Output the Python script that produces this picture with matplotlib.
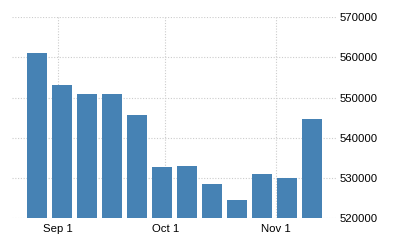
import matplotlib
matplotlib.use("Agg")
import matplotlib.pyplot as plt
import numpy as np
import pandas as pd

# weekly values
week_ending = ["2017-08-26", "2017-09-02", "2017-09-09", "2017-09-16",
               "2017-09-23", "2017-09-30", "2017-10-07", "2017-10-14",
               "2017-10-21", "2017-10-28", "2017-11-04", "2017-11-11"]
values = [561100, 553100, 550900, 550900, 545700, 532800,
          533100, 528500, 524600, 531000, 530000, 544700]
y_ticks = [520000, 530000, 540000, 550000, 560000, 570000]
x_ticks = ["2017-09-01", "2017-10-01", "2017-11-01"]
x_tick_labels = ["Sep 1", "Oct 1", "Nov 1"]

dates = pd.to_datetime(week_ending)
plt.rcParams['font.family'] = ['Liberation Sans', 'DejaVu Sans']

fig = plt.figure(figsize=(4, 2.5), dpi=100)
ax = fig.add_axes([0.03, 0.127, 0.81, 0.804])

ax.bar(dates, np.array(values) - y_ticks[0], bottom=y_ticks[0],
       width=5.6, color='#4682b4', zorder=2)

ax.set_ylim(y_ticks[0], y_ticks[-1])
ax.set_xlim(pd.Timestamp("2017-08-19 03:00"), pd.Timestamp("2017-11-17 17:00"))

ax.yaxis.tick_right()
ax.set_yticks(y_ticks)
ax.set_yticklabels([str(v) for v in y_ticks])
ax.set_xticks(pd.to_datetime(x_ticks))
ax.set_xticklabels(x_tick_labels)
ax.tick_params(axis='both', length=0, labelsize=8.2, colors='black')
ax.tick_params(axis='y', pad=2.5)
ax.tick_params(axis='x', pad=4)

ax.grid(True, color='#cccccc', linestyle=(0, (1, 1.5)), linewidth=0.8, zorder=0)
for s in ax.spines.values():
    s.set_visible(False)

fig.savefig("out.png", dpi=100)
